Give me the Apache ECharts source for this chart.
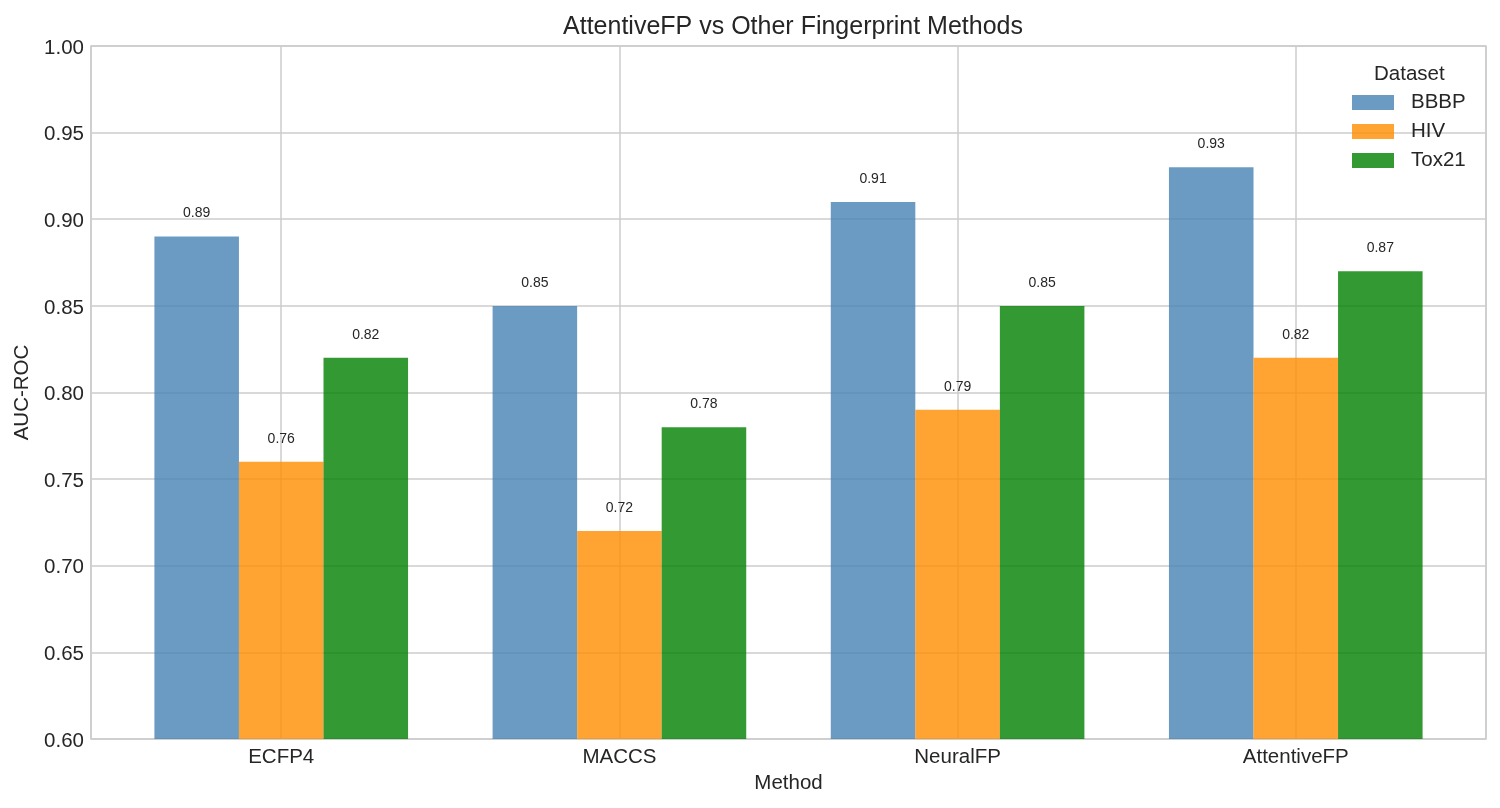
<!DOCTYPE html>
<html lang="en">
<head>
    <meta charset="UTF-8">
    <title>AttentiveFP vs Other Fingerprint Methods</title>
    <script src="https://cdn.jsdelivr.net/npm/echarts@6/dist/echarts.min.js" type="text/javascript"></script>
    <style>
        html, body { margin: 0; padding: 0; background: #fff; }
    </style>
</head>
<body>
<div id="chart" style="width: 1500px;height:808px;"></div>
</body>

<script type="text/javascript">
    var methods = ['ECFP4', 'MACCS', 'NeuralFP', 'AttentiveFP'];
    var datasets = ['BBBP', 'HIV', 'Tox21'];
    var bbbp = [0.89, 0.85, 0.91, 0.93];
    var hiv = [0.76, 0.72, 0.79, 0.82];
    var tox21 = [0.82, 0.78, 0.85, 0.87];
    var colors = ['rgba(70,130,180,0.8)', 'rgba(255,140,0,0.8)', 'rgba(0,128,0,0.8)'];

    var font = 'Liberation Sans';
    var textColor = '#262626';

    function toPoints(arr) {
        return arr.map(function (v, i) { return [i, v]; });
    }

    function makeSeries(name, values, color) {
        return {
            name: name,
            type: 'bar',
            data: toPoints(values),
            barWidth: '25%',
            barGap: '0%',
            itemStyle: { color: color },
            label: {
                show: true,
                position: 'top',
                distance: 16,
                fontFamily: font,
                fontSize: 14,
                color: textColor,
                formatter: function (p) { return p.value[1].toFixed(2); }
            }
        };
    }

    var chart = echarts.init(document.getElementById('chart'));
    chart.setOption({
        animation: false,
        title: [{
            text: 'AttentiveFP vs Other Fingerprint Methods',
            left: 788,
            textAlign: 'center',
            top: 10,
            textStyle: { fontFamily: font, fontSize: 25, fontWeight: 'normal', color: textColor }
        }, {
            text: 'Dataset',
            left: 1369,
            top: 59,
            textStyle: { fontFamily: font, fontSize: 20.5, fontWeight: 'normal', color: textColor }
        }],
        legend: {
            data: datasets,
            orient: 'vertical',
            left: 1347,
            top: 87,
            icon: 'rect',
            itemWidth: 42,
            itemHeight: 15,
            itemGap: 8,
            textStyle: { fontFamily: font, fontSize: 20.5, color: textColor, padding: [0, 0, 0, 12] }
        },
        grid: {
            left: 91,
            right: 14,
            top: 46,
            bottom: 69,
            show: true,
            borderColor: '#cccccc',
            borderWidth: 1.5
        },
        xAxis: {
            type: 'value',
            min: -0.5625,
            max: 3.5625,
            minInterval: 1,
            maxInterval: 1,
            name: 'Method',
            nameLocation: 'middle',
            nameGap: 33,
            nameTextStyle: { fontFamily: font, fontSize: 20.5, color: textColor },
            axisLine: { show: false },
            axisTick: { show: false },
            axisLabel: {
                margin: 8,
                fontFamily: font,
                fontSize: 20.5,
                color: textColor,
                formatter: function (v) {
                    return Number.isInteger(v) && methods[v] ? methods[v] : '';
                }
            },
            splitLine: { show: true, lineStyle: { color: '#cccccc', width: 1.5 } }
        },
        yAxis: {
            type: 'value',
            min: 0.6,
            max: 1.0,
            interval: 0.05,
            name: 'AUC-ROC',
            nameLocation: 'middle',
            nameGap: 57,
            nameTextStyle: { fontFamily: font, fontSize: 20.5, color: textColor },
            axisLine: { show: false },
            axisTick: { show: false },
            axisLabel: {
                margin: 7,
                verticalAlign: 'top',
                lineHeight: 4,
                fontFamily: font,
                fontSize: 20.5,
                color: textColor,
                formatter: function (v) { return v.toFixed(2); }
            },
            splitLine: { show: true, lineStyle: { color: '#cccccc', width: 1.5 } }
        },
        series: [
            makeSeries('BBBP', bbbp, colors[0]),
            makeSeries('HIV', hiv, colors[1]),
            makeSeries('Tox21', tox21, colors[2])
        ]
    });
</script>
</html>
